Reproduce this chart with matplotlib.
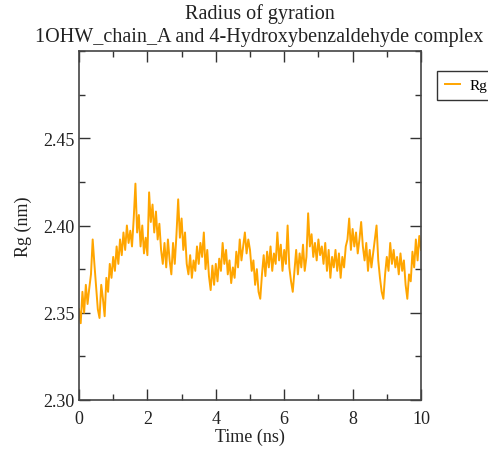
import numpy as np
import matplotlib
matplotlib.use("Agg")
import matplotlib.pyplot as plt
from matplotlib.ticker import MultipleLocator

title = "Radius of gyration\n1OHW_chain_A and 4-Hydroxybenzaldehyde complex"
x_label = "Time (ns)"
y_label = "Rg (nm)"
series_name = "Rg"

time_ns = np.linspace(0, 10, 201)
rg_nm = [
    2.352, 2.344, 2.362, 2.350, 2.366, 2.355, 2.364, 2.372, 2.392, 2.378,
    2.365, 2.352, 2.347, 2.366, 2.358, 2.348, 2.370, 2.362, 2.378, 2.370,
    2.382, 2.374, 2.388, 2.378, 2.392, 2.383, 2.396, 2.386, 2.400, 2.390,
    2.397, 2.388, 2.404, 2.424, 2.396, 2.406, 2.388, 2.400, 2.384, 2.393,
    2.383, 2.419, 2.402, 2.412, 2.396, 2.408, 2.392, 2.401, 2.386, 2.378,
    2.390, 2.376, 2.392, 2.380, 2.372, 2.390, 2.378, 2.395, 2.415, 2.393,
    2.404, 2.386, 2.396, 2.378, 2.372, 2.383, 2.370, 2.380, 2.374, 2.388,
    2.378, 2.390, 2.382, 2.396, 2.375, 2.386, 2.371, 2.363, 2.377, 2.366,
    2.378, 2.368, 2.381, 2.374, 2.390, 2.378, 2.386, 2.372, 2.380, 2.367,
    2.376, 2.370, 2.385, 2.376, 2.392, 2.380, 2.388, 2.396, 2.384, 2.392,
    2.386, 2.374, 2.380, 2.366, 2.375, 2.362, 2.358, 2.372, 2.383, 2.371,
    2.385, 2.376, 2.388, 2.374, 2.384, 2.378, 2.396, 2.380, 2.389, 2.374,
    2.386, 2.378, 2.400, 2.376, 2.368, 2.362, 2.374, 2.386, 2.372, 2.384,
    2.376, 2.389, 2.374, 2.382, 2.407, 2.388, 2.395, 2.382, 2.390, 2.380,
    2.392, 2.383, 2.388, 2.378, 2.390, 2.374, 2.386, 2.370, 2.382, 2.376,
    2.386, 2.374, 2.384, 2.370, 2.382, 2.376, 2.388, 2.392, 2.404, 2.386,
    2.398, 2.388, 2.396, 2.384, 2.392, 2.402, 2.388, 2.380, 2.390, 2.374,
    2.386, 2.376, 2.384, 2.392, 2.400, 2.380, 2.370, 2.362, 2.358, 2.372,
    2.382, 2.374, 2.390, 2.378, 2.386, 2.376, 2.382, 2.372, 2.384, 2.374,
    2.380, 2.366, 2.358, 2.372, 2.368, 2.385, 2.376, 2.392, 2.380, 2.394,
    2.386,
]

x_ticks = [0, 2, 4, 6, 8, 10]
y_ticks = [2.30, 2.35, 2.40, 2.45]

plt.rcParams['font.family'] = ['Liberation Serif', 'DejaVu Serif']

fig = plt.figure(figsize=(4.88, 4.52), dpi=100)
ax = fig.add_axes([79/488, 1 - 401/452, 342/488, 349/452])

line, = ax.plot(time_ns, rg_nm, color='#FFA500', lw=1.4, label=series_name)

ax.set_xlim(0, 10)
ax.set_ylim(2.30, 2.50)
ax.set_xticks(x_ticks)
ax.set_xticklabels([str(v) for v in x_ticks])
ax.set_yticks(y_ticks)
ax.set_yticklabels([f"{v:.2f}" for v in y_ticks])
ax.xaxis.set_minor_locator(MultipleLocator(1))
ax.yaxis.set_minor_locator(MultipleLocator(0.025))
ax.tick_params(which='both', direction='in', top=True, right=True,
               colors='#333333', labelcolor='#222222', labelsize=13, width=1)
ax.tick_params(axis='x', which='major', pad=7)
ax.tick_params(which='major', length=8)
ax.tick_params(which='minor', length=4.5)
for s in ax.spines.values():
    s.set_color('#444444')
    s.set_linewidth(1.2)

ax.set_xlabel(x_label, fontsize=13, color='#222222', labelpad=1)
ax.set_ylabel(y_label, fontsize=13, color='#222222', labelpad=8)
fig.text(0.532, 0.99, title, ha='center', va='top', fontsize=14.5,
         color='#222222', linespacing=1.25)

leg = fig.legend(handles=[line], loc='upper left',
                 bbox_to_anchor=(437/488, 1 - 72/452), frameon=True,
                 fancybox=False, framealpha=1, edgecolor='#333333',
                 fontsize=11, handlelength=1.0, borderpad=0.5,
                 handletextpad=0.6, borderaxespad=0)
leg.get_frame().set_linewidth(1.0)

fig.savefig("out.png", dpi=100)
